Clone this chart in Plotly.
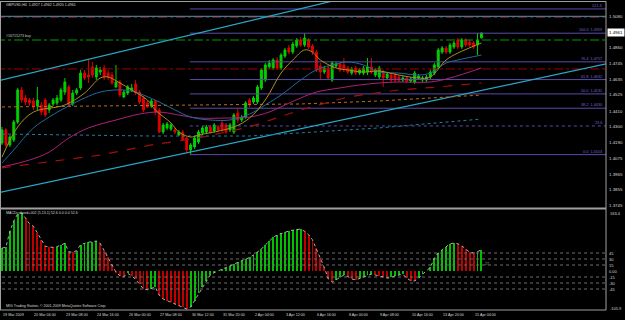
import plotly.graph_objects as go

# ---------------- data ----------------
symbol_title = "GBPUSD,H4  1.4927 1.4962 1.4920 1.4961"
order_label = "#16715273 buy"
macd_title = "MACDcolored+002 (5,13,1) 52.6 0.0 0.0 52.6"
copyright_text = "MIG Trading Station, \u00a9 2001-2009 MetaQuotes Software Corp."

opens = [1.4185, 1.4277, 1.4171, 1.4206, 1.4333, 1.4559, 1.4502, 1.4488, 1.4481, 1.4446,
         1.4453, 1.4488, 1.4418, 1.4460, 1.4467, 1.4488, 1.4544, 1.4580, 1.4460, 1.4537,
         1.4573, 1.4678, 1.4664, 1.4721, 1.4650, 1.4685, 1.4714, 1.4678, 1.4664, 1.4580,
         1.4615, 1.4509, 1.4537, 1.4559, 1.4601, 1.4544, 1.4502, 1.4467, 1.4446, 1.4481,
         1.4418, 1.4262, 1.4291, 1.4284, 1.4277, 1.4241, 1.4262, 1.4220, 1.4136, 1.4157,
         1.4192, 1.4255, 1.4262, 1.4298, 1.4270, 1.4298, 1.4326, 1.4312, 1.4277, 1.4262,
         1.4396, 1.4347, 1.4368, 1.4488, 1.4474, 1.4474, 1.4573, 1.4629, 1.4721, 1.4714,
         1.4770, 1.4714, 1.4798, 1.4855, 1.4826, 1.4869, 1.4911, 1.4876, 1.4911, 1.4869,
         1.4826, 1.4728, 1.4685, 1.4714, 1.4629, 1.4728, 1.4742, 1.4735, 1.4714, 1.4678,
         1.4714, 1.4678, 1.4678, 1.4685, 1.4721, 1.4664, 1.4650, 1.4685, 1.4643, 1.4664,
         1.4664, 1.4650, 1.4629, 1.4643, 1.4622, 1.4615, 1.4643, 1.4629, 1.4629, 1.4650,
         1.4678, 1.4721, 1.4826, 1.4855, 1.4826, 1.4862, 1.4911, 1.4862, 1.4911, 1.4897,
         1.4890, 1.4876, 1.4927]
highs = [1.4298, 1.4291, 1.4241, 1.4347, 1.4573, 1.4580, 1.4523, 1.4502, 1.4502, 1.4580,
         1.4474, 1.4502, 1.4467, 1.4502, 1.4523, 1.4573, 1.4643, 1.4594, 1.4559, 1.4573,
         1.4700, 1.4700, 1.4770, 1.4756, 1.4735, 1.4721, 1.4735, 1.4700, 1.4685, 1.4735,
         1.4629, 1.4559, 1.4594, 1.4601, 1.4629, 1.4559, 1.4516, 1.4481, 1.4495, 1.4488,
         1.4432, 1.4326, 1.4333, 1.4326, 1.4291, 1.4277, 1.4277, 1.4227, 1.4185, 1.4234,
         1.4277, 1.4305, 1.4312, 1.4312, 1.4326, 1.4312, 1.4340, 1.4326, 1.4326, 1.4396,
         1.4432, 1.4382, 1.4481, 1.4502, 1.4516, 1.4594, 1.4714, 1.4749, 1.4770, 1.4784,
         1.4791, 1.4819, 1.4855, 1.4876, 1.4897, 1.4925, 1.4932, 1.4959, 1.4925, 1.4883,
         1.4841, 1.4749, 1.4728, 1.4728, 1.4763, 1.4756, 1.4756, 1.4784, 1.4728, 1.4721,
         1.4728, 1.4714, 1.4728, 1.4784, 1.4784, 1.4714, 1.4728, 1.4700, 1.4685, 1.4678,
         1.4678, 1.4664, 1.4657, 1.4657, 1.4650, 1.4692, 1.4671, 1.4657, 1.4664, 1.4700,
         1.4749, 1.4855, 1.4869, 1.4869, 1.4890, 1.4904, 1.4925, 1.4925, 1.4925, 1.4911,
         1.4904, 1.4960, 1.4962]
lows = [1.4171, 1.4157, 1.4157, 1.4192, 1.4319, 1.4467, 1.4453, 1.4446, 1.4418, 1.4418,
        1.4382, 1.4368, 1.4396, 1.4446, 1.4453, 1.4474, 1.4523, 1.4439, 1.4446, 1.4523,
        1.4559, 1.4629, 1.4608, 1.4643, 1.4629, 1.4664, 1.4629, 1.4629, 1.4594, 1.4573,
        1.4509, 1.4502, 1.4523, 1.4544, 1.4523, 1.4460, 1.4403, 1.4432, 1.4432, 1.4382,
        1.4255, 1.4248, 1.4277, 1.4270, 1.4248, 1.4234, 1.4199, 1.4121, 1.4103, 1.4143,
        1.4178, 1.4241, 1.4248, 1.4248, 1.4255, 1.4262, 1.4262, 1.4248, 1.4262, 1.4248,
        1.4326, 1.4333, 1.4354, 1.4439, 1.4460, 1.4460, 1.4559, 1.4615, 1.4707, 1.4700,
        1.4700, 1.4700, 1.4784, 1.4812, 1.4812, 1.4855, 1.4862, 1.4862, 1.4848, 1.4805,
        1.4685, 1.4629, 1.4671, 1.4629, 1.4615, 1.4714, 1.4685, 1.4685, 1.4671, 1.4664,
        1.4664, 1.4664, 1.4664, 1.4664, 1.4671, 1.4650, 1.4636, 1.4580, 1.4629, 1.4615,
        1.4615, 1.4615, 1.4615, 1.4608, 1.4608, 1.4601, 1.4629, 1.4615, 1.4615, 1.4636,
        1.4664, 1.4707, 1.4812, 1.4812, 1.4812, 1.4848, 1.4848, 1.4848, 1.4862, 1.4862,
        1.4848, 1.4805, 1.4920]
closes = [1.4277, 1.4171, 1.4227, 1.4333, 1.4559, 1.4488, 1.4474, 1.4467, 1.4439, 1.4488,
          1.4403, 1.4382, 1.4453, 1.4488, 1.4502, 1.4559, 1.4615, 1.4453, 1.4537, 1.4559,
          1.4678, 1.4643, 1.4650, 1.4664, 1.4714, 1.4700, 1.4650, 1.4650, 1.4608, 1.4615,
          1.4523, 1.4544, 1.4580, 1.4573, 1.4537, 1.4474, 1.4418, 1.4439, 1.4481, 1.4403,
          1.4262, 1.4312, 1.4319, 1.4312, 1.4262, 1.4262, 1.4206, 1.4136, 1.4171, 1.4220,
          1.4262, 1.4291, 1.4298, 1.4262, 1.4312, 1.4277, 1.4277, 1.4262, 1.4312, 1.4382,
          1.4347, 1.4368, 1.4467, 1.4453, 1.4502, 1.4580, 1.4700, 1.4735, 1.4749, 1.4770,
          1.4714, 1.4805, 1.4841, 1.4826, 1.4883, 1.4911, 1.4876, 1.4925, 1.4862, 1.4826,
          1.4700, 1.4685, 1.4714, 1.4643, 1.4749, 1.4742, 1.4700, 1.4700, 1.4685, 1.4707,
          1.4678, 1.4700, 1.4714, 1.4721, 1.4685, 1.4700, 1.4714, 1.4643, 1.4671, 1.4629,
          1.4629, 1.4629, 1.4643, 1.4622, 1.4636, 1.4678, 1.4657, 1.4643, 1.4650, 1.4685,
          1.4735, 1.4841, 1.4855, 1.4826, 1.4876, 1.4890, 1.4862, 1.4911, 1.4876, 1.4876,
          1.4862, 1.4911, 1.4961]

# moving averages (sampled bar index, value)
ma_fast_bars = [0, 4, 8, 16, 21, 25, 27, 30, 33, 37, 39, 43, 45, 48, 50, 59, 63, 67, 71, 74,
                77, 79, 81, 85, 88, 92, 96, 101, 106, 109, 113, 116, 122]
ma_fast_vals = [1.4086, 1.4298, 1.4403, 1.4453, 1.4537, 1.4643, 1.4650, 1.4608, 1.4559, 1.4488,
                1.4418, 1.4326, 1.4262, 1.4227, 1.4241, 1.4298, 1.4361, 1.4488, 1.4678, 1.4770,
                1.4841, 1.4826, 1.4770, 1.4714, 1.4700, 1.4685, 1.4692, 1.4664, 1.4643, 1.4650,
                1.4770, 1.4819, 1.4890]
ma_mid_bars = [0, 3, 8, 12, 16, 21, 25, 29, 33, 36, 40, 44, 48, 53, 58, 63, 67, 71, 76, 80,
               85, 88, 92, 96, 101, 106, 109, 113, 116, 122]
ma_mid_vals = [1.4044, 1.4136, 1.4291, 1.4368, 1.4432, 1.4502, 1.4544, 1.4559, 1.4551, 1.4523,
               1.4474, 1.4418, 1.4368, 1.4347, 1.4347, 1.4389, 1.4453, 1.4523, 1.4629, 1.4700,
               1.4742, 1.4756, 1.4735, 1.4685, 1.4678, 1.4664, 1.4678, 1.4749, 1.4770, 1.4805]
ma_slow_bars = [0, 7, 12, 17, 22, 29, 35, 40, 45, 50, 57, 63, 68, 72, 76, 80, 86, 91, 96, 101,
                109, 114, 122]
ma_slow_vals = [1.4016, 1.4065, 1.4121, 1.4220, 1.4291, 1.4347, 1.4389, 1.4403, 1.4382, 1.4361,
                1.4361, 1.4368, 1.4403, 1.4453, 1.4502, 1.4544, 1.4573, 1.4594, 1.4608, 1.4615,
                1.4615, 1.4643, 1.4714]
ma_long_bars = [0, 15, 25, 38, 50, 63, 76, 88, 101, 111, 122]
ma_long_vals = [1.4009, 1.4065, 1.4100, 1.4171, 1.4220, 1.4298, 1.4418, 1.4509, 1.4559, 1.4580, 1.4608]
ma_orange_bars = [0, 50, 76, 96, 122]
ma_orange_vals = [1.4439, 1.4453, 1.4460, 1.4481, 1.4523]
ma_teal_bars = [0, 38, 63, 76, 96, 122]
ma_teal_vals = [1.4248, 1.4234, 1.4234, 1.4255, 1.4291, 1.4354]

# trend channel anchors (bar, price)
trend_upper = [(0, 1.4629), (50, 1.4960)]
trend_lower = [(0, 1.3839), (48, 1.4121)]

# horizontal objects
level_cyan = 1.5078
level_red_top = 1.5070
level_buy = 1.4911
level_red_mid = 1.4707

# fibonacci (start bar, levels)
fib_start_bar = 48
fib_levels = [0.0, 23.6, 38.2, 50.0, 61.8, 76.4, 100.0, 121.3]
fib_prices = [1.4103, 1.4305, 1.4430, 1.4531, 1.4632, 1.4757, 1.4959, 1.5130]
fib_texts = ["0.0  1.4103", "23.6", "38.2  1.4430", "50.0  1.4531", "61.8  1.4632",
             "76.4  1.4757", "100.0  1.4959", "121.3"]

# price axis labels
price_ticks = [1.5080, 1.4860, 1.4745, 1.4635, 1.4525, 1.4410, 1.4300, 1.4190, 1.4075,
               1.3965, 1.3855, 1.3745]
price_tick_text = ["1.5080", "1.4860", "1.4745", "1.4635", "1.4525", "1.4410", "1.4300",
                   "1.4190", "1.4075", "1.3965", "1.3855", "1.3745"]
last_price = 1.4961

# time axis labels
time_label_bars = [0, 8, 16, 24, 32, 40, 48, 56, 64, 72, 80, 88, 96, 104, 112, 120]
time_labels = ["19 Mar 2009", "20 Mar 04:00", "23 Mar 08:00", "24 Mar 16:00", "26 Mar 00:00",
               "27 Mar 08:00", "30 Mar 12:00", "31 Mar 20:00", "2 Apr 04:00", "3 Apr 12:00",
               "6 Apr 16:00", "8 Apr 00:00", "9 Apr 08:00", "10 Apr 16:00", "13 Apr 20:00",
               "15 Apr 04:00"]

# MACD histogram
macd = [57, 60, 99, 125, 143, 145, 132, 118, 112, 96,
        78, 62, 60, 59, 61, 66, 69, 48, 47, 51,
        66, 69, 72, 73, 75, 69, 51, 35, 14, -3,
        -12, -14, -6, -12, -21, -33, -45, -47, -44, -40,
        -60, -70, -74, -78, -83, -87, -91, -95, -90, -74,
        -55, -40, -24, -10, -4, 0, 4, 8, 13, 18,
        22, 26, 30, 34, 40, 47, 55, 65, 75, 84,
        90, 94, 97, 100, 102, 104, 105, 99, 91, 78,
        57, 32, 9, -19, -28, -22, -15, -10, -14, -20,
        -22, -18, -14, -10, -8, -10, -12, -15, -18, -16,
        -12, -10, -8, -18, -24, -25, -18, -8, 0, 9,
        32, 45, 53, 61, 68, 70, 68, 63, 56, 47,
        45, 48, 52.6]
macd_levels = [45, 30, 15, -15, -30, -45]
macd_axis_labels = ["45", "30", "15", "0.00", "-15", "-30", "-45"]
macd_axis_vals = [45, 30, 15, 0, -15, -30, -45]
macd_max_label, macd_min_label = "163.4", "-105.9"

# ---------------- geometry ----------------
W, H = 625, 320
X_RIGHT = 606          # right edge of chart area (px)
BAR_PX = 3.93          # px per bar
X0_PX = 2              # px of bar 0
MAIN_TOP, MAIN_BOT = 2, 207
SUB_TOP, SUB_BOT = 210, 310
x_lo = (0 - X0_PX) / BAR_PX
x_hi = (X_RIGHT - X0_PX) / BAR_PX
PX_PER_PRICE = 1 / 0.000705
P_AT_0 = 1.5193
main_range = [P_AT_0 - MAIN_BOT / PX_PER_PRICE, P_AT_0 - MAIN_TOP / PX_PER_PRICE]
sub_range = [(271 - SUB_BOT) * 2.5, (271 - SUB_TOP) * 2.5]


def py(p):
    return 1 - p / H


def pxp(p):
    return p / W


bars = list(range(len(opens)))
fig = go.Figure()

GRID = "#a0a0a0"
FONT = "Liberation Sans"


def hline(y, color, dash, width=1, x0=x_lo - 1, x1=x_hi + 1, yaxis="y"):
    fig.add_trace(go.Scatter(x=[x0, x1], y=[y, y], mode="lines", yaxis=yaxis,
                             line=dict(color=color, dash=dash, width=width), hoverinfo="skip"))


# fib lines
for lvl, pr in zip(fib_levels, fib_prices):
    hline(pr, "#5a4ca8", "dot" if lvl == 23.6 else "solid", x0=fib_start_bar - 0.2)

# horizontal order / level lines
hline(level_red_top, "#a00000", "dashdot")
hline(level_cyan, "#2aa8c8", "solid")
hline(level_buy, "#00a000", "dashdot")
hline(level_red_mid, "#a00000", "dashdot")


def ray(a, b):
    (i0, p0), (i1, p1) = a, b
    s = (p1 - p0) / (i1 - i0)
    xs = [x_lo - 1, x_hi + 1]
    return xs, [p0 + s * (x - i0) for x in xs]


for tl in (trend_upper, trend_lower):
    xs, ys = ray(*tl)
    fig.add_trace(go.Scatter(x=xs, y=ys, mode="lines", line=dict(color="#2aa8c8", width=1.2),
                             hoverinfo="skip"))

# long moving averages
fig.add_trace(go.Scatter(x=ma_teal_bars, y=ma_teal_vals, mode="lines",
                         line=dict(color="#1f7fa8", width=1, dash="dot"), hoverinfo="skip"))
fig.add_trace(go.Scatter(x=ma_orange_bars, y=ma_orange_vals, mode="lines",
                         line=dict(color="#c06a20", width=1, dash="dot"), hoverinfo="skip"))
fig.add_trace(go.Scatter(x=ma_long_bars, y=ma_long_vals, mode="lines",
                         line=dict(color="#a01010", width=1.2, dash="dash"), hoverinfo="skip"))
fig.add_trace(go.Scatter(x=ma_slow_bars, y=ma_slow_vals, mode="lines", line_shape="spline",
                         line=dict(color="#b0207a", width=1), hoverinfo="skip"))
fig.add_trace(go.Scatter(x=ma_mid_bars, y=ma_mid_vals, mode="lines", line_shape="spline",
                         line=dict(color="#1f6a9e", width=1), hoverinfo="skip"))

# candles
fig.add_trace(go.Candlestick(
    x=bars, open=opens, high=highs, low=lows, close=closes,
    increasing=dict(line=dict(color="#00d000", width=1), fillcolor="#00d000"),
    decreasing=dict(line=dict(color="#e00000", width=1), fillcolor="#e00000"),
    whiskerwidth=0, hoverinfo="skip"))

fig.add_trace(go.Scatter(x=ma_fast_bars, y=ma_fast_vals, mode="lines", line_shape="spline",
                         line=dict(color="#a89020", width=1), hoverinfo="skip"))

# MACD panel
for lv in macd_levels:
    hline(lv, "#707070", "dot", yaxis="y2")
colors = []
for i, v in enumerate(macd):
    colors.append("#00c000" if i == 0 or v >= macd[i - 1] else "#c00000")
fig.add_trace(go.Bar(x=bars, y=macd, yaxis="y2", marker=dict(color=colors, line=dict(width=0)),
                     width=0.24, hoverinfo="skip"))
fig.add_trace(go.Scatter(x=bars, y=macd, yaxis="y2", mode="lines",
                         line=dict(color="#b0b0b0", width=1, dash="dot"), hoverinfo="skip"))

ann = []
TXT = "#d8d8d8"
ann.append(dict(x=pxp(4), y=py(5), xref="paper", yref="paper", text=symbol_title, showarrow=False,
                xanchor="left", yanchor="middle", font=dict(size=3.6, color=TXT, family=FONT)))
ann.append(dict(x=pxp(4), y=level_buy, xref="paper", yref="y", text=order_label, showarrow=False,
                xanchor="left", yanchor="bottom", font=dict(size=3.6, color="#c8c8c8", family=FONT)))
ann.append(dict(x=pxp(4), y=py(213), xref="paper", yref="paper", text=macd_title, showarrow=False,
                xanchor="left", yanchor="middle", font=dict(size=3.6, color=TXT, family=FONT)))
ann.append(dict(x=pxp(4), y=py(306), xref="paper", yref="paper", text=copyright_text,
                showarrow=False, xanchor="left", yanchor="middle",
                font=dict(size=3.6, color=TXT, family=FONT)))
for t, pr in zip(fib_texts, fib_prices):
    ann.append(dict(x=pxp(603), y=pr, xref="paper", yref="y", text=t, showarrow=False,
                    xanchor="right", yanchor="bottom", borderpad=0,
                    font=dict(size=3.8, color="#7565d0", family=FONT)))
for t, pr in zip(price_tick_text, price_ticks):
    ann.append(dict(x=pxp(608), y=pr, xref="paper", yref="y", text=t, showarrow=False,
                    xanchor="left", yanchor="middle", borderpad=0,
                    font=dict(size=4.4, color=TXT, family=FONT)))
ann.append(dict(x=pxp(607), y=last_price, xref="paper", yref="y", text="%.4f" % last_price,
                showarrow=False, xanchor="left", yanchor="middle", bgcolor="#ffffff",
                borderpad=1, font=dict(size=4.4, color="#000000", family=FONT)))
for t, v in zip(macd_axis_labels, macd_axis_vals):
    ann.append(dict(x=pxp(608), y=v, xref="paper", yref="y2", text=t, showarrow=False,
                    xanchor="left", yanchor="middle", borderpad=0,
                    font=dict(size=4.0, color=TXT, family=FONT)))
ann.append(dict(x=pxp(608), y=py(213), xref="paper", yref="paper", text=macd_max_label,
                showarrow=False, xanchor="left", yanchor="middle",
                font=dict(size=4.0, color=TXT, family=FONT)))
ann.append(dict(x=pxp(608), y=py(308), xref="paper", yref="paper", text=macd_min_label,
                showarrow=False, xanchor="left", yanchor="middle",
                font=dict(size=4.0, color=TXT, family=FONT)))
ann.append(dict(x=len(bars) - 0.5, y=17, xref="x", yref="y2", text="27", showarrow=False,
                xanchor="left", yanchor="middle", font=dict(size=3.6, color="#a0a0a0", family=FONT)))
for b, t in zip(time_label_bars, time_labels):
    ann.append(dict(x=b, y=py(315), xref="x", yref="paper", text=t, showarrow=False,
                    xanchor="left", yanchor="middle", borderpad=0,
                    font=dict(size=3.7, color=TXT, family=FONT)))

shapes = [
    dict(type="line", xref="paper", yref="paper", x0=0, x1=pxp(X_RIGHT), y0=py(1.5), y1=py(1.5),
         line=dict(color=GRID, width=1)),
    dict(type="line", xref="paper", yref="paper", x0=pxp(0.5), x1=pxp(0.5), y0=py(1.5), y1=py(SUB_BOT),
         line=dict(color=GRID, width=1)),
    dict(type="line", xref="paper", yref="paper", x0=pxp(X_RIGHT), x1=pxp(X_RIGHT), y0=py(1.5),
         y1=py(SUB_BOT), line=dict(color=GRID, width=1)),
    dict(type="line", xref="paper", yref="paper", x0=0, x1=pxp(X_RIGHT), y0=py(208.5), y1=py(208.5),
         line=dict(color=GRID, width=2)),
    dict(type="line", xref="paper", yref="paper", x0=0, x1=pxp(X_RIGHT), y0=py(SUB_BOT),
         y1=py(SUB_BOT), line=dict(color=GRID, width=1)),
]

fig.update_layout(
    width=W, height=H, margin=dict(l=0, r=0, t=0, b=0),
    paper_bgcolor="#000000", plot_bgcolor="#000000", showlegend=False,
    xaxis=dict(domain=[0, pxp(X_RIGHT)], range=[x_lo, x_hi], visible=False,
               rangeslider=dict(visible=False)),
    yaxis=dict(domain=[py(MAIN_BOT), py(MAIN_TOP)], range=main_range, visible=False),
    yaxis2=dict(domain=[py(SUB_BOT), py(SUB_TOP)], range=sub_range, visible=False, anchor="x"),
    annotations=ann, shapes=shapes, bargap=0,
)

fig.write_html("out.html")
